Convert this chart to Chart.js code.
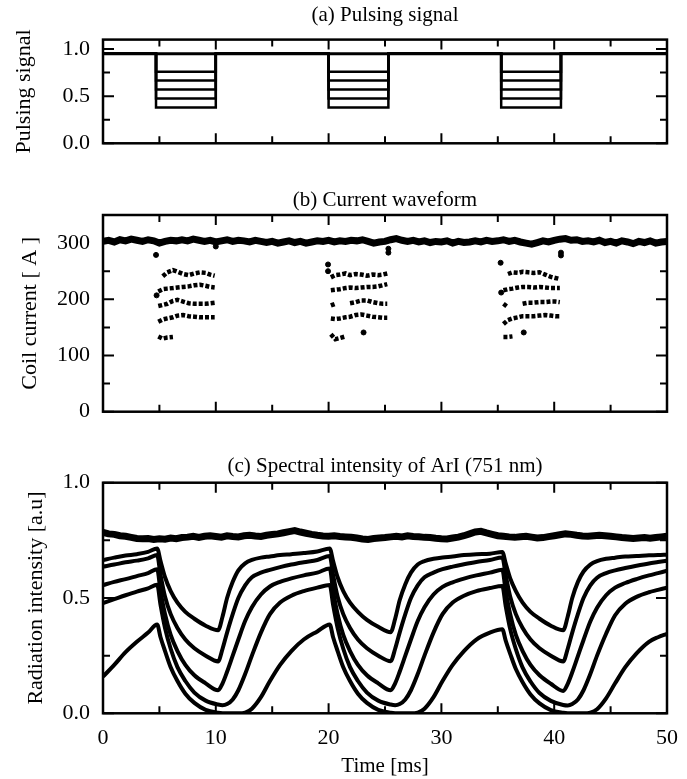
<!DOCTYPE html>
<html>
<head>
<meta charset="utf-8">
<title>Pulsed coil current and ArI radiation</title>
<script src="https://cdn.jsdelivr.net/npm/chart.js@4.4.0/dist/chart.umd.min.js"></script>
<style>
  html, body { margin: 0; padding: 0; background: #fff; }
  #wrap { position: relative; width: 687px; height: 779px; }
  canvas { position: absolute; left: 0; }
</style>
</head>
<body>
<div id="wrap">
  <canvas id="chartA" width="687" height="160" style="top:0"></canvas>
  <canvas id="chartB" width="687" height="260" style="top:160px"></canvas>
  <canvas id="chartC" width="687" height="359" style="top:420px"></canvas>
</div>
<script>
// shared time axis [ms]
const timeTicks = [0, 5, 10, 15, 20, 25, 30, 35, 40, 45, 50];
const timeLabels = ['0', '', '10', '', '20', '', '30', '', '40', '', '50'];
const halfMs = Array.from({ length: 101 }, (_, i) => i / 2);

// (a) pulsing signal, one value per switching edge
const edgeTimes = [0, 4.7, 10.0, 20.0, 25.3, 35.3, 40.6, 50];
const signalFull = [0.95, 0.95, 0.95, 0.95, 0.95, 0.95, 0.95, 0.95];
const signal80 = [0.95, 0.76, 0.95, 0.76, 0.95, 0.76, 0.95, 0.95];
const signal70 = [0.95, 0.665, 0.95, 0.665, 0.95, 0.665, 0.95, 0.95];
const signal60 = [0.95, 0.57, 0.95, 0.57, 0.95, 0.57, 0.95, 0.95];
const signal50 = [0.95, 0.475, 0.95, 0.475, 0.95, 0.475, 0.95, 0.95];
const signal40 = [0.95, 0.38, 0.95, 0.38, 0.95, 0.38, 0.95, 0.95];
const signalTicks = [0, 0.25, 0.5, 0.75, 1.0];
const signalLabels = ['0.0', '', '0.5', '', '1.0'];

// (b) coil current [A]; unpulsed trace on the 0.5 ms grid
const currentFull = [
  303, 305, 302, 306, 304, 307, 305, 303, 306, 304,
  300, 303, 305, 304, 306, 304, 307, 305, 303, 305,
  302, 304, 306, 303, 305, 304, 302, 305, 303, 301,
  303, 300, 302, 304, 301, 303, 300, 302, 304, 303,
  305, 302, 304, 303, 305, 304, 306, 303, 300, 302,
  303, 306, 308, 305, 303, 305, 302, 304, 301, 303,
  302, 304, 300, 303, 301, 302, 304, 302, 305, 303,
  304, 306, 303, 305, 302, 300, 298, 301, 304, 302,
  305, 307, 308, 305, 306, 303, 304, 302, 305, 301,
  303, 300, 304, 302, 299, 303, 301, 304, 300, 302,
  303
];
// reduced-current levels sampled inside each pulse (15 and 30 ms break the lines)
const pulseTimes = [
  4.9, 5.3, 5.7, 6.2, 6.6, 7.1, 7.6, 8.1, 8.6, 9.1, 9.5, 9.9, 15,
  20.2, 20.6, 21.0, 21.5, 21.9, 22.4, 22.9, 23.4, 23.9, 24.4, 24.8, 25.2, 30,
  35.5, 35.9, 36.3, 36.8, 37.2, 37.7, 38.2, 38.7, 39.2, 39.7, 40.1, 40.5
];
const current80 = [
  null, 241, 248, 252, 249, 245, 243, 246, 248, 247, 244, 242, null,
  239, 243, 244, 246, 243, 245, 244, 242, 244, 243, 244, 246, null,
  null, 245, 248, 247, 249, 248, 247, 248, 244, 240, 238, 236
];
const current70 = [
  214, 218, 219, 220, 221, 222, 223, 225, 226, 224, 222, 221, null,
  216, 217, 218, 220, 221, 220, 221, 222, 222, 223, 225, 227, null,
  216, 218, 219, 221, 222, 222, 221, 222, 221, 220, 220, 220
];
const current60 = [
  188, 190, 192, 197, 199, 196, 193, 192, 192, 192, 193, 194, null,
  189, 192, null, null, 193, 195, 198, 198, 195, 193, 192, 192, null,
  192, 186, null, null, 192, 194, 194, 195, 195, 196, 196, 195
];
const current50 = [
  160, 164, 166, 168, 171, 172, 170, 169, 168, 168, 168, 168, null,
  166, 165, 166, 168, 169, 172, 173, 171, 169, 168, 167, 167, null,
  156, 163, 166, 168, 170, 170, 170, 171, 172, 171, 170, 170
];
const current40 = [
  134, 130, 132, 133, null, null, null, null, null, null, null, null, null,
  138, 129, 131, 134, null, null, null, null, null, null, null, null, null,
  133, 133, 134, null, null, null, null, null, null, null, null, null
];
// single samples caught on the switching edges
const edgeSampleTimes = [4.7, 4.75, 10.0, 19.95, 19.95, 23.1, 25.3, 25.3, 35.25, 35.3, 37.3, 40.6, 40.6];
const edgeSampleValues = [279, 207, 294, 262, 250, 141, 290, 283, 265, 212, 141, 283, 278];
const currentTicks = [0, 50, 100, 150, 200, 250, 300];
const currentLabels = ['0', '', '100', '', '200', '', '300'];

// (c) ArI 751 nm intensity [a.u.]
const intensityFull = [
  0.785, 0.778, 0.776, 0.770, 0.768, 0.763, 0.758, 0.757, 0.758, 0.754,
  0.757, 0.755, 0.760, 0.757, 0.762, 0.764, 0.768, 0.763, 0.768, 0.770,
  0.767, 0.764, 0.770, 0.767, 0.765, 0.770, 0.772, 0.769, 0.767, 0.772,
  0.775, 0.778, 0.783, 0.788, 0.792, 0.786, 0.781, 0.776, 0.772, 0.769,
  0.768, 0.770, 0.767, 0.765, 0.763, 0.760, 0.756, 0.754, 0.758, 0.760,
  0.762, 0.765, 0.768, 0.765, 0.770, 0.767, 0.766, 0.763, 0.762, 0.759,
  0.757, 0.756, 0.760, 0.764, 0.770, 0.778, 0.786, 0.789, 0.782, 0.776,
  0.770, 0.768, 0.765, 0.763, 0.766, 0.768, 0.764, 0.760, 0.762, 0.766,
  0.770, 0.774, 0.778, 0.776, 0.772, 0.769, 0.768, 0.770, 0.772, 0.770,
  0.768, 0.765, 0.762, 0.760, 0.758, 0.760, 0.762, 0.759, 0.762, 0.765,
  0.768
];
const cycleTimes = [
  0, 1, 2, 3, 4, 4.8, 5.1, 5.5, 6.0, 6.6, 7.3, 8.1, 9.1, 10.2, 10.6, 11.0, 11.5, 12.0, 12.6, 13.2, 14.0, 14.8, 15.7, 16.7, 17.8, 19.0,
  20.1, 20.4, 20.8, 21.3, 21.9, 22.6, 23.4, 24.4, 25.5, 25.9, 26.3, 26.8, 27.3, 27.9, 28.5, 29.3, 30.1, 31.0, 32.0, 33.1, 34.3,
  35.4, 35.7, 36.1, 36.6, 37.2, 37.9, 38.7, 39.7, 40.8, 41.2, 41.6, 42.1, 42.6, 43.2, 43.8, 44.6, 45.4, 46.3, 47.3, 48.4, 49.2, 50.0
];
const intensity80 = [
  0.665, 0.675, 0.684, 0.690, 0.700, 0.715, 0.660, 0.590, 0.530, 0.480, 0.440, 0.410, 0.380, 0.360, 0.420, 0.500, 0.570, 0.620, 0.650, 0.665, 0.675, 0.680, 0.686, 0.690, 0.695, 0.702,
  0.715, 0.660, 0.590, 0.530, 0.480, 0.440, 0.405, 0.375, 0.352, 0.410, 0.490, 0.560, 0.610, 0.645, 0.660, 0.670, 0.676, 0.680, 0.686, 0.690, 0.692,
  0.700, 0.650, 0.585, 0.530, 0.480, 0.440, 0.410, 0.380, 0.360, 0.420, 0.500, 0.570, 0.615, 0.645, 0.660, 0.670, 0.675, 0.680, 0.682, 0.685, 0.686, 0.688
];
const intensity70 = [
  0.636, 0.645, 0.655, 0.662, 0.672, 0.686, 0.600, 0.505, 0.430, 0.370, 0.320, 0.282, 0.250, 0.225, 0.280, 0.350, 0.430, 0.500, 0.555, 0.590, 0.610, 0.622, 0.634, 0.645, 0.655, 0.665,
  0.682, 0.600, 0.505, 0.430, 0.370, 0.320, 0.282, 0.250, 0.226, 0.280, 0.350, 0.430, 0.500, 0.555, 0.590, 0.610, 0.625, 0.636, 0.646, 0.656, 0.665,
  0.676, 0.600, 0.505, 0.430, 0.370, 0.320, 0.282, 0.250, 0.225, 0.280, 0.350, 0.430, 0.500, 0.555, 0.588, 0.608, 0.620, 0.630, 0.640, 0.650, 0.656, 0.662
];
const intensity60 = [
  0.556, 0.570, 0.582, 0.595, 0.608, 0.625, 0.530, 0.430, 0.340, 0.270, 0.210, 0.165, 0.130, 0.100, 0.130, 0.180, 0.250, 0.320, 0.400, 0.460, 0.515, 0.550, 0.570, 0.585, 0.598, 0.610,
  0.628, 0.530, 0.430, 0.340, 0.270, 0.210, 0.165, 0.130, 0.100, 0.130, 0.180, 0.250, 0.320, 0.400, 0.460, 0.515, 0.548, 0.568, 0.584, 0.598, 0.610,
  0.622, 0.530, 0.430, 0.340, 0.270, 0.210, 0.165, 0.128, 0.097, 0.128, 0.178, 0.248, 0.318, 0.398, 0.458, 0.512, 0.545, 0.565, 0.582, 0.598, 0.608, 0.618
];
const intensity50 = [
  0.478, 0.495, 0.512, 0.528, 0.542, 0.558, 0.470, 0.370, 0.280, 0.200, 0.140, 0.090, 0.055, 0.038, 0.035, 0.040, 0.060, 0.100, 0.170, 0.250, 0.350, 0.430, 0.480, 0.510, 0.530, 0.545,
  0.556, 0.470, 0.370, 0.280, 0.200, 0.140, 0.090, 0.055, 0.038, 0.035, 0.040, 0.060, 0.100, 0.170, 0.250, 0.350, 0.430, 0.480, 0.510, 0.530, 0.543,
  0.552, 0.465, 0.365, 0.278, 0.198, 0.138, 0.088, 0.054, 0.036, 0.034, 0.040, 0.060, 0.100, 0.170, 0.250, 0.345, 0.425, 0.475, 0.505, 0.525, 0.535, 0.545
];
const intensity40 = [
  0.159, 0.210, 0.265, 0.310, 0.350, 0.385, 0.330, 0.270, 0.200, 0.140, 0.085, 0.045, 0.015, 0.002, 0, 0, 0, 0, 0.003, 0.020, 0.070, 0.140, 0.210, 0.270, 0.320, 0.355,
  0.385, 0.330, 0.270, 0.200, 0.140, 0.085, 0.045, 0.015, 0.002, 0, 0, 0, 0, 0.003, 0.020, 0.070, 0.140, 0.210, 0.270, 0.320, 0.350,
  0.365, 0.315, 0.258, 0.192, 0.135, 0.082, 0.043, 0.014, 0.002, 0, 0, 0, 0, 0.003, 0.018, 0.065, 0.130, 0.200, 0.260, 0.310, 0.330, 0.345
];
const intensityTicks = [0, 0.25, 0.5, 0.75, 1.0];
const intensityLabels = ['0.0', '', '0.5', '', '1.0'];

const SERIF = "'Liberation Serif', 'Times New Roman', serif";
const INK = '#000';

function points(xs, ys) {
  return xs.map((x, i) => ({ x: x, y: ys[i] }));
}

// frame box plus inward tick marks on all four sides
const frameTicks = {
  id: 'frameTicks',
  afterDatasetsDraw(chart, args, opts) {
    const { ctx, chartArea: a } = chart;
    const xs = chart.scales.x, ys = chart.scales.y;
    ctx.save();
    ctx.strokeStyle = INK;
    ctx.lineWidth = 2;
    ctx.beginPath();
    timeTicks.forEach(v => {
      const px = xs.getPixelForValue(v);
      const len = v % 10 === 0 ? 10 : 7;
      ctx.moveTo(px, a.bottom); ctx.lineTo(px, a.bottom - len);
      ctx.moveTo(px, a.top); ctx.lineTo(px, a.top + len);
    });
    opts.ticks.forEach((v, i) => {
      const py = ys.getPixelForValue(v);
      const len = opts.labels[i] !== '' ? 11 : 7;
      ctx.moveTo(a.left, py); ctx.lineTo(a.left + len, py);
      ctx.moveTo(a.right, py); ctx.lineTo(a.right - len, py);
    });
    ctx.stroke();
    ctx.lineWidth = 2.5;
    ctx.strokeRect(a.left, a.top, a.right - a.left, a.bottom - a.top);
    ctx.restore();
  }
};

function panelOptions(p) {
  const font = { family: SERIF, size: 21, weight: 'normal' };
  const tickFont = { family: SERIF, size: 22, weight: 'normal' };
  return {
    responsive: false,
    animation: false,
    events: [],
    layout: { padding: { left: 0, right: 20, top: 0, bottom: 0 } },
    plugins: {
      legend: { display: false },
      tooltip: { enabled: false },
      title: {
        display: true, text: p.title, color: INK, font: font,
        fullSize: false, padding: p.titlePad
      },
      frameTicks: { ticks: p.yTicks, labels: p.yLabels }
    },
    scales: {
      x: {
        type: 'linear', min: 0, max: 50,
        afterBuildTicks: s => { s.ticks = timeTicks.map(v => ({ value: v })); },
        afterFit: s => { s.height = p.xHeight; s.paddingLeft = 0; s.paddingRight = 0; },
        grid: { display: false, drawTicks: false },
        border: { display: false },
        ticks: {
          display: !!p.xTitle, color: INK, font: tickFont, padding: 12,
          maxRotation: 0, autoSkip: false,
          callback: (v, i) => timeLabels[i]
        },
        title: { display: !!p.xTitle, text: p.xTitle, color: INK, font: font, padding: 0 }
      },
      y: {
        type: 'linear', min: p.yMin, max: p.yMax,
        afterBuildTicks: s => { s.ticks = p.yTicks.map(v => ({ value: v })); },
        afterFit: s => { s.width = 103; s.paddingTop = 0; s.paddingBottom = 0; },
        grid: { display: false, drawTicks: false },
        border: { display: false },
        ticks: {
          color: INK, font: tickFont, padding: 13, autoSkip: false,
          callback: (v, i) => p.yLabels[i]
        },
        title: {
          display: true, text: p.yTitle, color: INK,
          font: { family: SERIF, size: 22, weight: 'normal' },
          padding: { top: p.yTitlePad, bottom: 0 }
        }
      }
    }
  };
}

function traceLine(data, width, extra) {
  return Object.assign({
    data: data, borderColor: INK, backgroundColor: INK, borderWidth: width,
    pointRadius: 0, fill: false, spanGaps: false
  }, extra || {});
}

// (a)
new Chart(document.getElementById('chartA'), {
  type: 'line',
  data: {
    datasets: [signalFull, signal80, signal70, signal60, signal50, signal40].map((s, i) =>
      traceLine(points(edgeTimes, s), i === 0 ? 3 : 2.5, { stepped: true }))
  },
  options: panelOptions({
    title: '(a) Pulsing signal', titlePad: { top: 2.4, bottom: 12 },
    yMin: 0, yMax: 1.1, yTicks: signalTicks, yLabels: signalLabels,
    yTitle: 'Pulsing signal', yTitlePad: 11, xHeight: 16.7
  }),
  plugins: [frameTicks]
});

// (b)
new Chart(document.getElementById('chartB'), {
  type: 'line',
  data: {
    datasets: [
      traceLine(points(halfMs, currentFull), 7),
      ...[current80, current70, current60, current50, current40].map(s =>
        traceLine(points(pulseTimes, s), 4.5, { borderDash: [4, 2] })),
      {
        type: 'scatter', data: points(edgeSampleTimes, edgeSampleValues),
        backgroundColor: INK, borderColor: INK, pointRadius: 2.5, showLine: false
      }
    ]
  },
  options: panelOptions({
    title: '(b) Current waveform', titlePad: { top: 27.4, bottom: 2.4 },
    yMin: 0, yMax: 350, yTicks: currentTicks, yLabels: currentLabels,
    yTitle: 'Coil current [ A ]', yTitlePad: 17.5, xHeight: 8.3
  }),
  plugins: [frameTicks]
});

// (c)
new Chart(document.getElementById('chartC'), {
  type: 'line',
  data: {
    datasets: [
      traceLine(points(halfMs, intensityFull), 7),
      ...[intensity80, intensity70, intensity60, intensity50, intensity40].map(s =>
        traceLine(points(cycleTimes, s), 4, { cubicInterpolationMode: 'monotone' }))
    ]
  },
  options: panelOptions({
    title: '(c) Spectral intensity of ArI (751 nm)', titlePad: { top: 34.1, bottom: 3.4 },
    yMin: 0, yMax: 1.0, yTicks: intensityTicks, yLabels: intensityLabels,
    yTitle: 'Radiation intensity [a.u]', yTitlePad: 23, xHeight: 65.7, xTitle: 'Time [ms]'
  }),
  plugins: [frameTicks]
});
</script>
</body>
</html>
